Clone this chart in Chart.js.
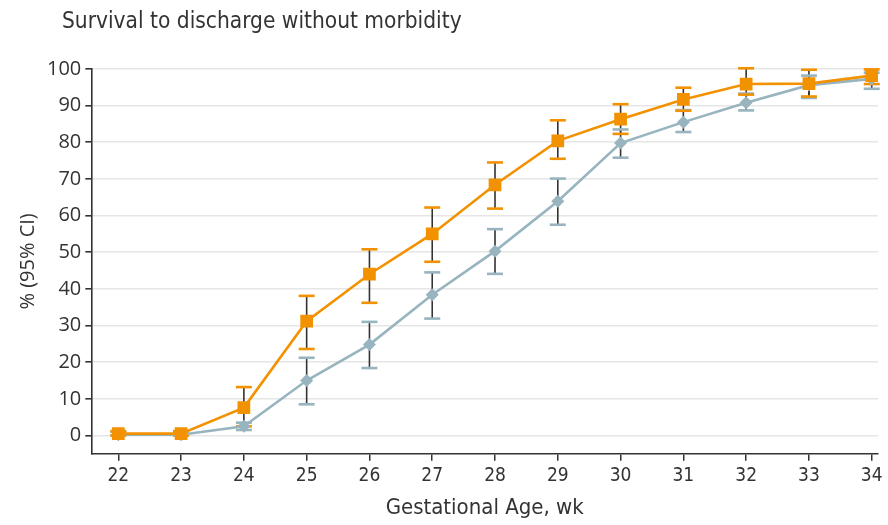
<!DOCTYPE html>
<html><head><meta charset="utf-8">
<script src="https://cdn.jsdelivr.net/npm/chart.js@4/dist/chart.umd.min.js"></script>
<style>html,body{margin:0;padding:0;background:#fff}#wrap{width:888px;height:525px}</style>
</head><body><div id="wrap"><canvas id="c" width="888" height="525"></canvas></div>
<script>
const chartTitle = "Survival to discharge without morbidity";
const xTitle = "Gestational Age, wk";
const yTitle = "% (95% CI)";
const weeks = [22, 23, 24, 25, 26, 27, 28, 29, 30, 31, 32, 33, 34];
const yTicks = [0, 10, 20, 30, 40, 50, 60, 70, 80, 90, 100];

const orangeMean = [0.5, 0.5, 7.6, 31.2, 44.0, 55.0, 68.4, 80.4, 86.3, 91.7, 95.9, 96.0, 98.2];
const orangeLow  = [0.0, 0.0, 2.5, 23.6, 36.2, 47.4, 61.9, 75.5, 82.3, 88.6, 93.0, 92.5, 95.9];
const orangeHigh = [1.2, 1.2, 13.2, 38.1, 50.8, 62.2, 74.5, 86.0, 90.4, 94.9, 100.2, 99.8, 99.9];

const blueMean = [0.2, 0.2, 2.5, 15.0, 24.8, 38.4, 50.3, 63.9, 79.8, 85.5, 90.8, 95.6, 97.3];
const blueLow  = [0.0, 0.0, 1.5, 8.5, 18.4, 31.9, 44.1, 57.5, 75.8, 82.8, 88.7, 92.1, 94.6];
const blueHigh = [1.0, 1.0, 3.5, 21.2, 31.0, 44.5, 56.3, 70.1, 83.5, 88.8, 93.3, 98.2, 99.0];

const ORANGE = "#F39200";
const BLUE = "#97B4BF";
const DARK = "#333333";
const condensed = "'DejaVu Sans Condensed','Liberation Sans Narrow',sans-serif";
const regular = "'Open Sans','Noto Sans',sans-serif";

const toPts = (ys) => weeks.map((w, i) => ({ x: w, y: ys[i] }));

const errorBars = {
  id: "errorBars",
  beforeDatasetsDraw(chart) {
    const ctx = chart.ctx;
    const xs = chart.scales.x, ys = chart.scales.y;
    const sets = [
      { lo: blueLow, hi: blueHigh, color: BLUE },
      { lo: orangeLow, hi: orangeHigh, color: ORANGE }
    ];
    ctx.save();
    sets.forEach(s => {
      weeks.forEach((w, i) => {
        const x = xs.getPixelForValue(w);
        const y1 = ys.getPixelForValue(s.lo[i]);
        const y2 = ys.getPixelForValue(s.hi[i]);
        ctx.strokeStyle = DARK;
        ctx.lineWidth = 1.6;
        ctx.beginPath(); ctx.moveTo(x, y1); ctx.lineTo(x, y2); ctx.stroke();
      });
    });
    sets.forEach(s => {
      weeks.forEach((w, i) => {
        const x = xs.getPixelForValue(w);
        ctx.strokeStyle = s.color;
        ctx.lineWidth = 2.6;
        [s.lo[i], s.hi[i]].forEach(v => {
          const y = ys.getPixelForValue(v);
          ctx.beginPath(); ctx.moveTo(x - 8, y); ctx.lineTo(x + 8, y); ctx.stroke();
        });
      });
    });
    ctx.restore();
  }
};

const titlePlugin = {
  id: "topTitle",
  afterDraw(chart) {
    const ctx = chart.ctx;
    ctx.save();
    ctx.font = "500 22.5px " + condensed;
    ctx.fillStyle = DARK;
    ctx.textBaseline = "alphabetic";
    ctx.textAlign = "left";
    ctx.fillText(chartTitle, 62, 28);
    ctx.restore();
  }
};

new Chart(document.getElementById("c"), {
  type: "line",
  data: {
    datasets: [
      {
        label: "Orange",
        data: toPts(orangeMean),
        borderColor: ORANGE, backgroundColor: ORANGE,
        borderWidth: 2.6, pointStyle: "rect", pointRadius: 9, pointHoverRadius: 9,
        pointBorderWidth: 0, tension: 0, order: 0
      },
      {
        label: "Blue",
        data: toPts(blueMean),
        borderColor: BLUE, backgroundColor: BLUE,
        borderWidth: 2.6, pointStyle: "rectRot", pointRadius: 6.5, pointHoverRadius: 6.5,
        pointBorderWidth: 0, tension: 0, order: 1
      }
    ]
  },
  options: {
    responsive: false,
    animation: false,
    events: [],
    layout: { padding: { top: 69, right: 10, left: 16, bottom: 4 } },
    plugins: { legend: { display: false }, tooltip: { enabled: false }, title: { display: false } },
    scales: {
      x: {
        type: "linear", min: 21.57, max: 34.1,
        afterBuildTicks: (axis) => { axis.ticks = weeks.map(v => ({ value: v })); },
        grid: { drawOnChartArea: false, drawTicks: true, tickLength: 7, color: DARK, lineWidth: 1.5 },
        border: { color: DARK, width: 1.6 },
        ticks: { color: DARK, font: { family: condensed, size: 19 }, padding: 4, maxRotation: 0 },
        title: { display: true, text: xTitle, color: DARK, font: { family: condensed, size: 22 }, padding: { top: 3, bottom: 0 } }
      },
      y: {
        type: "linear", min: -5, max: 100,
        afterBuildTicks: (axis) => { axis.ticks = yTicks.map(v => ({ value: v })); },
        grid: { color: "#E6E6E6", lineWidth: 1.6, tickLength: 6, tickColor: DARK, drawTicks: true },
        border: { color: DARK, width: 1.6 },
        ticks: { color: DARK, font: { family: regular, size: 20 }, padding: 4 },
        title: { display: true, text: yTitle, color: DARK, font: { family: regular, size: 20 }, padding: { top: 0, bottom: 3 } }
      }
    }
  },
  plugins: [errorBars, titlePlugin]
});
</script>
</body></html>
